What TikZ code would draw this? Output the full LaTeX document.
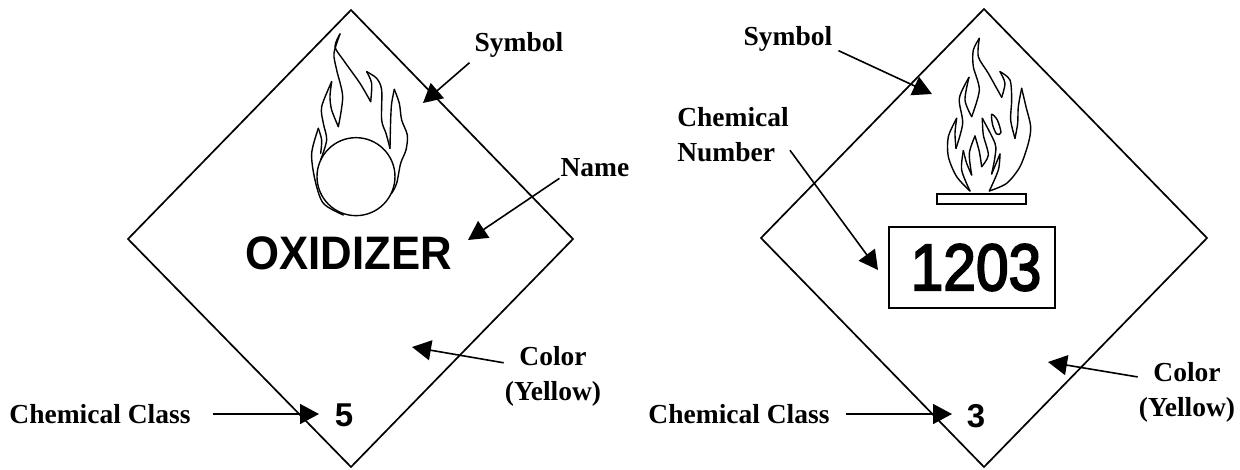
\documentclass[tikz,border=0pt]{standalone}
\usepackage{fontspec}
\setmainfont{Liberation Serif}
\newfontfamily\placardfont{Liberation Sans}
\newfontfamily\numberfont[FakeBold=3]{Liberation Sans}
\usetikzlibrary{arrows.meta}
\tikzset{
  placard/.style={draw=black,line width=1.7pt,line join=miter},
  flame/.style={draw=black,line width=1.4pt,line join=round,line cap=round},
  callout/.style={draw=black,line width=1.6pt,-{Triangle[length=19pt,width=20pt]}},
  tag/.style={font=\fontsize{27.5}{35}\selectfont\bfseries,inner sep=1pt},
  classnum/.style={font=\placardfont\fontsize{33}{33}\selectfont\bfseries,inner sep=0pt}
}
\begin{document}
\begin{tikzpicture}[x=1pt,y=-1pt]
  \useasboundingbox (0,0) rectangle (1240,469);
  % Diamonds
  \draw[placard] (351,10) -- (573,239) -- (351,467) -- (128,239) -- cycle;
  \draw[placard] (984,9) -- (1207,238) -- (984,467) -- (761,238) -- cycle;
  % Flame over circle
  \begin{scope}[shift={(280,20)},x=0.3333pt,y=-0.3333pt]
    \draw[flame] (228,470) circle[radius=117];
    \draw[flame] plot[smooth] coordinates {(335,520) (350,490) (362,430) (378,390) (382,345) (365,300) (358,250) (343,208)};
    \draw[flame] plot[smooth] coordinates {(343,208) (335,250) (332,300) (330,385)};
    \draw[flame] plot[smooth] coordinates {(330,385) (318,340) (305,300) (305,210) (290,175) (260,155)};
    \draw[flame] plot[smooth] coordinates {(260,155) (275,190) (272,245)};
    \draw[flame] plot[smooth] coordinates {(272,245) (240,190) (190,120) (165,80) (180,42)};
    \draw[flame] plot[smooth] coordinates {(180,42) (162,100) (170,150) (188,230) (175,320)};
    \draw[flame] plot[smooth] coordinates {(175,320) (155,270) (150,230) (155,185)};
    \draw[flame] plot[smooth] coordinates {(155,185) (125,260) (130,310) (140,360) (122,420)};
    \draw[flame] plot[smooth] coordinates {(122,400) (125,360) (115,325)};
    \draw[flame] plot[smooth] coordinates {(115,325) (95,400) (105,480) (130,550) (190,585)};
  \end{scope}
  % Flame over bar
  \begin{scope}[shift={(920,20)},x=0.3333pt,y=-0.3333pt]
    \draw[flame] plot[smooth] coordinates {(208,513) (260,490) (300,440) (325,370) (332,320) (318,260) (305,205)};
    \draw[flame] plot[smooth] coordinates {(305,205) (295,260) (293,310) (285,355)};
    \draw[flame] plot[smooth] coordinates {(285,355) (272,300) (275,240) (270,180) (240,155)};
    \draw[flame] plot[smooth] coordinates {(240,155) (255,190) (245,232)};
    \draw[flame] plot[smooth] coordinates {(245,232) (205,160) (175,110) (178,55)};
    \draw[flame] plot[smooth] coordinates {(178,55) (160,90) (160,140) (178,210) (155,290)};
    \draw[flame] plot[smooth] coordinates {(155,290) (135,240) (147,172)};
    \draw[flame] plot[smooth] coordinates {(147,172) (118,235) (128,310) (108,385)};
    \draw[flame] plot[smooth] coordinates {(108,385) (105,340) (110,295)};
    \draw[flame] plot[smooth] coordinates {(110,295) (85,350) (85,410) (110,470) (150,513)};
    \draw[flame] plot[smooth] coordinates {(150,513) (125,450) (130,392)};
    \draw[flame] plot[smooth] coordinates {(130,392) (140,430) (155,465)};
    \draw[flame] plot[smooth] coordinates {(155,465) (148,400) (165,348)};
    \draw[flame] plot[smooth] coordinates {(165,348) (178,395) (185,440)};
    \draw[flame] plot[smooth] coordinates {(185,440) (205,405) (190,345) (187,295)};
    \draw[flame] plot[smooth] coordinates {(187,295) (225,370) (225,410) (215,462)};
    \draw[flame] plot[smooth] coordinates {(215,462) (240,402)};
    \draw[flame] plot[smooth] coordinates {(240,402) (235,450) (208,513)};
    \draw[flame] plot[smooth cycle] coordinates {(215,283) (232,300) (243,338) (230,342) (218,315)};
    \draw[black,line width=1.8pt] (50,522) rectangle (318,552);
  \end{scope}
  % Placard texts
  \node[font=\placardfont\fontsize{47}{47}\selectfont\bfseries,inner sep=0pt] (oxidizer) at (348.5,253.5) {\scalebox{0.93}[1]{OXIDIZER}};
  \node[draw=black,line width=1.6pt,minimum width=166pt,minimum height=81pt,inner sep=0pt,font=\numberfont\fontsize{66}{66}\selectfont] (number) at (972,267.5) {\hspace*{8pt}\scalebox{0.89}[1]{1203}};
  \node[classnum] (classA) at (344,415) {5};
  \node[classnum] (classB) at (976,416) {3};
  % Left labels
  \node[tag,inner sep=5pt] (symbolA) at (519,45) {Symbol};
  \node[tag] (nameA) at (595,168) {Name};
  \node[tag,align=center] (colorA) at (553,376) {Color\\(Yellow)};
  \node[tag] (chemA) at (100,414) {Chemical Class};
  % Right labels
  \node[tag,inner sep=6pt] (symbolB) at (788,39) {Symbol};
  \node[tag,align=left] (numberlbl) at (733,135) {Chemical\\Number};
  \node[tag,align=center] (colorB) at (1187,392) {Color\\(Yellow)};
  \node[tag] (chemB) at (739,414) {Chemical Class};
  % Arrow tips
  \coordinate (tipsymbolA) at (423,103);
  \coordinate (tipnameA) at (468,240);
  \coordinate (tipcolorA) at (412,347);
  \coordinate (tipchemA) at (319,414);
  \coordinate (tipsymbolB) at (932,94);
  \coordinate (tipnumber) at (878,270);
  \coordinate (tipcolorB) at (1048,362);
  \coordinate (tipchemB) at (952,414);
  % Arrows
  \draw[callout] (symbolA.south west) -- (tipsymbolA);
  \draw[callout] (nameA.south west) -- (tipnameA);
  \draw[callout] (colorA.165) -- (tipcolorA);
  \draw[callout] ([xshift=21pt]chemA.east) -- (tipchemA);
  \draw[callout] (symbolB.-13) -- (tipsymbolB);
  \draw[callout] (numberlbl.-15) -- (tipnumber);
  \draw[callout] (colorB.163) -- (tipcolorB);
  \draw[callout] ([xshift=15pt]chemB.east) -- (tipchemB);
\end{tikzpicture}
\end{document}
